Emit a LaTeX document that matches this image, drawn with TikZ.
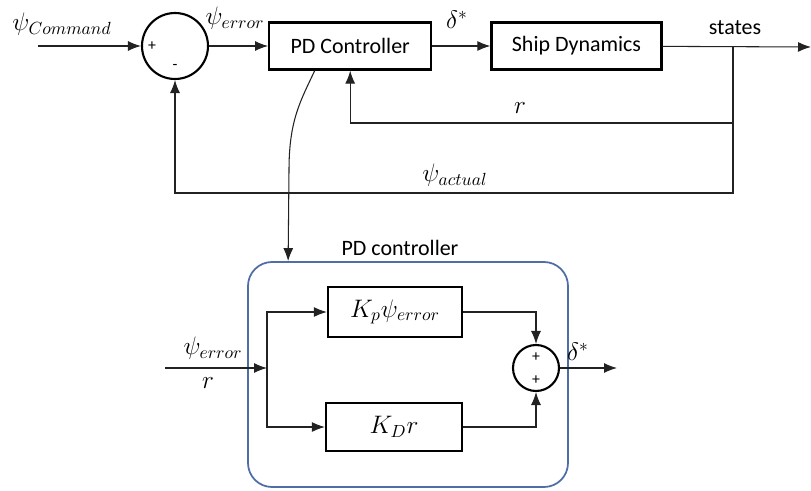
\documentclass[tikz,border=0pt]{standalone}
\usepackage{fontspec}
\setmainfont{Carlito}
\usepackage{amsmath}
\usetikzlibrary{arrows.meta,positioning,calc}
\definecolor{Frame}{HTML}{4F6EA8}
\definecolor{Wire}{HTML}{222222}
\tikzset{
  block/.style={draw,line width=1.3pt,minimum height=9.4mm,inner sep=0pt,
    font=\fontsize{12.5}{15}\selectfont},
  sumnode/.style={draw,line width=1.2pt,circle,inner sep=0pt},
  sign/.style={font=\small,inner sep=0pt},
  mathlabel/.style={font=\Large,inner sep=0pt},
  textlabel/.style={font=\fontsize{12.5}{15}\selectfont,inner sep=0pt},
  arrow/.style={-{Latex[length=2.6mm,width=2mm]},line width=0.6pt,color=Wire},
  wire/.style={line width=0.6pt,color=Wire}
}
\begin{document}
\begin{tikzpicture}[x=0.2mm,y=-0.2mm]
  \useasboundingbox (0,0) rectangle (811,490);
  % outer loop
  \node[sumnode,minimum size=13.2mm] (sum) at (175,46) {};
  \node[sign] at ([xshift=-4.6mm]sum.center) {+};
  \node[sign] at ([yshift=-4.2mm]sum.center) {-};
  \node[block,minimum width=32.4mm,right=11.8mm of sum] (pd) {PD Controller};
  \node[block,minimum width=34mm,right=11.6mm of pd] (ship) {Ship Dynamics};
  \coordinate (cmd) at (38,46);
  \coordinate (split) at (733,47);
  \coordinate (out) at (811,47);
  \node[mathlabel] at (62,24) {$\psi_{Command}$};
  \node[mathlabel] at (235,18) {$\psi_{error}$};
  \node[mathlabel] at (457,20) {$\delta^{*}$};
  \node[textlabel] at (735,28) {states};
  \node[mathlabel] at (520,108) {$r$};
  \node[mathlabel] at (455,175) {$\psi_{actual}$};
  \draw[arrow] (cmd) -- (sum.west);
  \draw[arrow] (sum) -- (pd);
  \draw[arrow] (pd) -- (ship);
  \draw[arrow] (ship) -- (out);
  \draw[arrow] (split) -- (733,123) -| (pd.south);
  \draw[arrow] (split) -- (733,193) -| (sum.south);
  % inner controller
  \node[draw=Frame,line width=1pt,rounded corners=4.8mm,minimum width=64mm,
    minimum height=45mm] (pdbox) at (408,374.5) {};
  \node[textlabel] at (400,248) {PD controller};
  \draw[arrow] ([xshift=-7.1mm]pd.south) .. controls +(-14,30) and +(0,-50) ..
    (289,170) -- ([xshift=8.2mm]pdbox.north west);
  \node[block,minimum width=26.8mm,minimum height=10mm,font=\Large] (kp) at (395,312)
    {$K_p\psi_{error}$};
  \node[block,minimum width=27.2mm,minimum height=9.6mm,font=\Large] (kd) at (394,427)
    {$K_D r$};
  \node[sumnode,minimum size=9.2mm] (sum2) at (536,368) {};
  \node[sign] at ([yshift=2.2mm]sum2.center) {+};
  \node[sign] at ([yshift=-2.4mm]sum2.center) {+};
  \coordinate (in) at (165,368);
  \coordinate (split2) at (267,368);
  \coordinate (out2) at (617,368);
  \node[mathlabel] at (213,348) {$\psi_{error}$};
  \node[mathlabel] at (208,383) {$r$};
  \node[mathlabel] at (578,352) {$\delta^{*}$};
  \draw[arrow] (in) -- (split2);
  \draw[arrow] (split2) |- (kp.west);
  \draw[arrow] (split2) |- (kd.west);
  \draw[arrow] (kp.east) -| (sum2.north);
  \draw[arrow] (kd.east) -| (sum2.south);
  \draw[arrow] (sum2.east) -- (out2);
\end{tikzpicture}
\end{document}
